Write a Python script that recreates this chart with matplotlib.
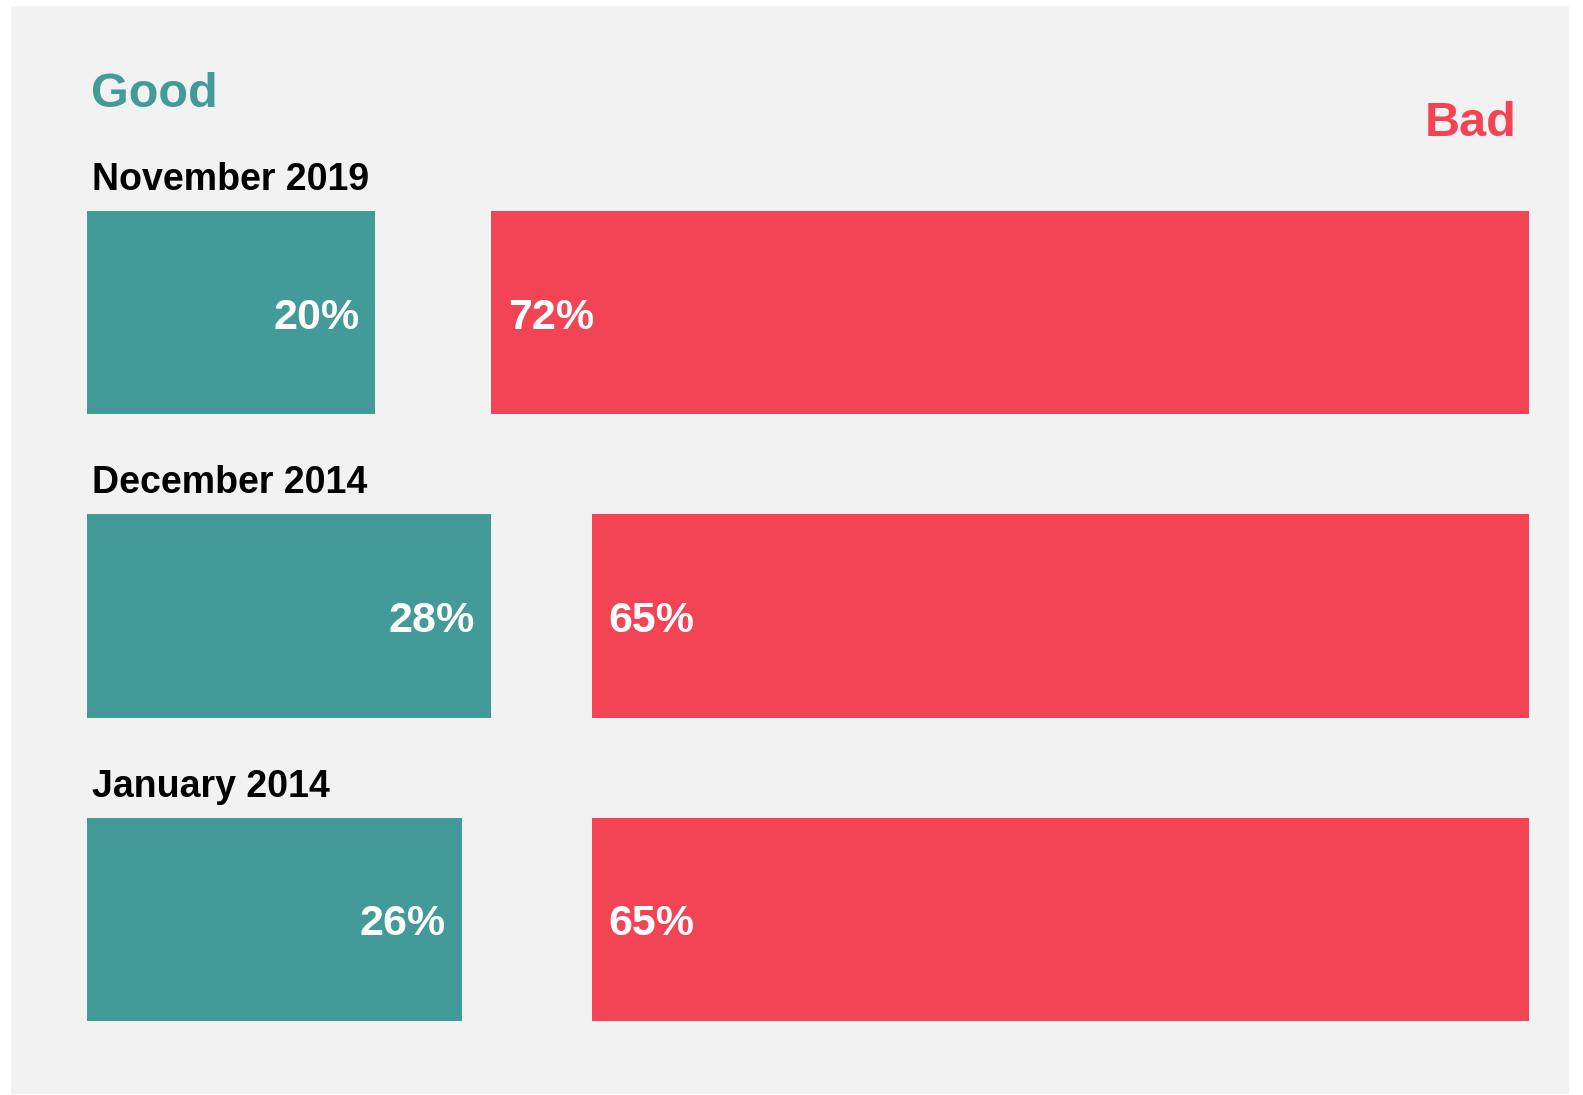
import matplotlib
matplotlib.use('Agg')
import matplotlib.pyplot as plt
from matplotlib.patches import Rectangle

# data
periods = ["November 2019", "December 2014", "January 2014"]
good = [20, 28, 26]
bad = [72, 65, 65]

teal = "#429a99"
red = "#f24455"
bg = "#f2f2f2"

plt.rcParams['font.family'] = ['Liberation Sans', 'DejaVu Sans']

W, H = 1583, 1095
fig = plt.figure(figsize=(W / 100, H / 100), dpi=100, facecolor="white")

# gray panel
fig.add_artist(Rectangle((11 / W, 1 / H), (1569 - 11) / W, (1094 - 6) / H,
                         transform=fig.transFigure, facecolor=bg, edgecolor="none", zorder=0))

ax = fig.add_axes([87 / W, (H - 1021) / H, (1529 - 87) / W, (1021 - 211) / H])
ax.set_facecolor("none")
bh = 0.669
rows = list(range(len(periods)))

ax.barh(rows, good, height=bh, color=teal, left=0)
ax.barh(rows, bad, height=bh, color=red, left=[100 - b for b in bad])

for i in rows:
    ax.annotate(f"{good[i]}%", (good[i], i), xytext=(-16, -5), textcoords="offset pixels",
                ha="right", va="center", color="white", fontsize=31, fontweight="bold")
    ax.annotate(f"{bad[i]}%", (100 - bad[i], i), xytext=(17, -5), textcoords="offset pixels",
                ha="left", va="center", color="white", fontsize=31, fontweight="bold")
    ax.annotate(periods[i], (0, i - bh / 2), xytext=(5, 21), textcoords="offset pixels",
                ha="left", va="baseline", color="black", fontsize=27, fontweight="bold")

ax.set_xlim(0, 100)
ax.set_ylim(len(periods) - 1 + bh / 2, -bh / 2)
ax.axis("off")

fig.text(91 / W, (H - 107) / H, "Good", color=teal, fontsize=35, fontweight="bold",
         ha="left", va="baseline")
fig.text(1517 / W, (H - 136) / H, "Bad", color=red, fontsize=35, fontweight="bold",
         ha="right", va="baseline")

fig.savefig("out.png", dpi=100, facecolor="white")
